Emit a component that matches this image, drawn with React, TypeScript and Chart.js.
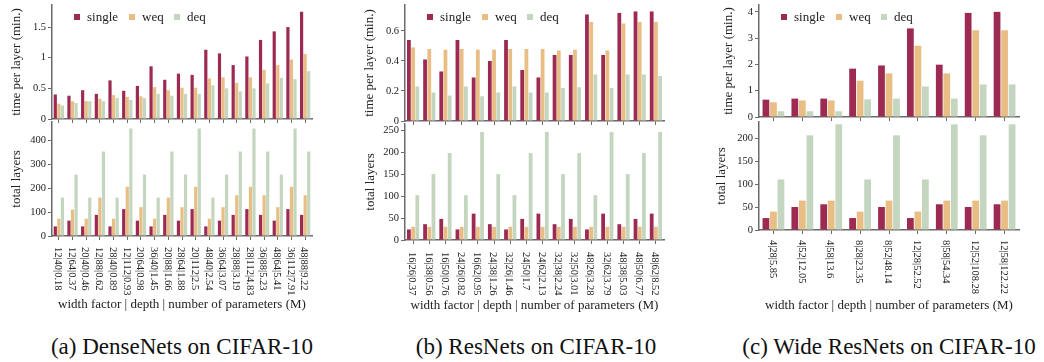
import React, { useEffect, useRef } from "react";
import { Chart, registerables } from "chart.js";

Chart.register(...registerables);

const FONT = "'Liberation Serif', 'Times New Roman', serif";
const SERIES = ["single", "weq", "deq"];
const COLORS = ["#9C2A52", "#E8BE84", "#C4D6C0"];
const AXIS = "#6b6b6b";
const TEXT = "#222";
const X_TITLE = "width factor | depth | number of parameters (M)";

// (a) DenseNets
const denseLabels = ["12|40|0.18", "12|64|0.37", "20|40|0.46", "12|88|0.62", "28|40|0.89", "12|112|0.93", "20|64|0.98", "36|40|1.45", "20|88|1.66", "28|64|1.88", "20|112|2.5", "48|40|2.54", "36|64|3.07", "28|88|3.19", "28|112|4.83", "36|88|5.23", "48|64|5.41", "36|112|7.91", "48|88|9.22"];
const denseTimeSingle = [0.40, 0.38, 0.47, 0.41, 0.63, 0.46, 0.54, 0.86, 0.64, 0.74, 0.72, 1.13, 1.07, 0.88, 1.02, 1.29, 1.43, 1.50, 1.75];
const denseTimeWeq = [0.25, 0.29, 0.29, 0.33, 0.39, 0.36, 0.37, 0.52, 0.47, 0.51, 0.51, 0.66, 0.68, 0.59, 0.68, 0.80, 0.88, 0.97, 1.06];
const denseTimeDeq = [0.22, 0.26, 0.29, 0.29, 0.34, 0.31, 0.34, 0.41, 0.38, 0.41, 0.41, 0.55, 0.50, 0.45, 0.50, 0.58, 0.67, 0.65, 0.78];
const denseLayersSingle = [40, 64, 40, 88, 40, 112, 64, 40, 88, 64, 112, 40, 64, 88, 112, 88, 64, 112, 88];
const denseLayersWeq = [72, 110, 72, 160, 72, 205, 120, 72, 160, 120, 205, 72, 120, 170, 205, 170, 120, 205, 170];
const denseLayersDeq = [160, 256, 160, 352, 160, 448, 256, 160, 352, 256, 448, 160, 256, 352, 448, 352, 256, 448, 352];

// (b) ResNets
const resLabels = ["16|26|0.37", "16|38|0.56", "16|50|0.76", "24|26|0.82", "16|62|0.95", "24|38|1.26", "32|26|1.46", "24|50|1.7", "24|62|2.13", "32|38|2.24", "32|50|3.01", "48|26|3.28", "32|62|3.79", "48|38|5.03", "48|50|6.77", "48|62|8.52"];
const resTimeSingle = [0.54, 0.41, 0.33, 0.54, 0.29, 0.40, 0.54, 0.34, 0.29, 0.44, 0.44, 0.71, 0.44, 0.72, 0.73, 0.73];
const resTimeWeq = [0.49, 0.48, 0.475, 0.48, 0.475, 0.475, 0.48, 0.48, 0.48, 0.47, 0.475, 0.66, 0.47, 0.65, 0.66, 0.66];
const resTimeDeq = [0.23, 0.19, 0.17, 0.23, 0.165, 0.19, 0.23, 0.19, 0.19, 0.22, 0.225, 0.31, 0.22, 0.31, 0.31, 0.30];
const resLayersSingle = [24, 36, 48, 24, 60, 36, 24, 48, 60, 36, 48, 24, 60, 36, 48, 60];
const resLayersWeq = [30, 30, 30, 30, 30, 30, 30, 30, 30, 30, 30, 30, 30, 30, 30, 30];
const resLayersDeq = [102, 150, 198, 102, 246, 150, 102, 198, 246, 150, 198, 102, 246, 150, 198, 246];

// (c) Wide ResNets
const wideLabels = ["4|28|5.85", "4|52|12.05", "4|58|13.6", "8|28|23.35", "8|52|48.14", "12|28|52.52", "8|58|54.34", "12|52|108.28", "12|58|122.22"];
const wideTimeSingle = [0.66, 0.70, 0.70, 1.84, 1.96, 3.37, 1.99, 3.96, 4.0];
const wideTimeWeq = [0.56, 0.63, 0.63, 1.38, 1.66, 2.71, 1.66, 3.30, 3.30];
const wideTimeDeq = [0.22, 0.22, 0.22, 0.67, 0.70, 1.16, 0.70, 1.24, 1.24];
const wideLayersSingle = [26, 50, 56, 26, 50, 26, 56, 50, 56];
const wideLayersWeq = [40, 64, 64, 40, 64, 40, 64, 64, 64];
const wideLayersDeq = [110, 206, 230, 110, 206, 110, 230, 206, 230];

const legendPlugin = {
  id: "boxLegend",
  afterDraw(chart: any, _args: any, opts: any) {
    if (!opts || !opts.show) return;
    const { ctx, chartArea } = chart;
    const offs = [22, 77, 122];
    ctx.save();
    ctx.font = `13px ${FONT}`;
    ctx.textBaseline = "middle";
    ctx.textAlign = "left";
    chart.data.datasets.forEach((ds: any, i: number) => {
      const x = chartArea.left + offs[i];
      const y = chartArea.top + 12;
      ctx.fillStyle = ds.backgroundColor;
      ctx.fillRect(x, y - 3, 6, 6);
      ctx.fillStyle = TEXT;
      ctx.fillText(ds.label, x + 13, y + 0.5);
    });
    ctx.restore();
  },
};

const xLabelPlugin = {
  id: "xLabels",
  afterDraw(chart: any, _args: any, opts: any) {
    if (!opts || !opts.show) return;
    const { ctx, chartArea } = chart;
    const xs = chart.scales.x;
    ctx.save();
    ctx.font = `10.5px ${FONT}`;
    ctx.fillStyle = TEXT;
    ctx.textAlign = "left";
    ctx.textBaseline = "middle";
    chart.data.labels.forEach((lab: string, i: number) => {
      const px = xs.getPixelForTick(i);
      ctx.save();
      ctx.translate(px - 1, chartArea.bottom + opts.gap);
      ctx.rotate(Math.PI / 2);
      ctx.fillText(lab, 0, 0);
      ctx.restore();
    });
    ctx.font = `13px ${FONT}`;
    ctx.textAlign = "center";
    ctx.fillText(X_TITLE, (chartArea.left + chartArea.right) / 2, opts.titleY);
    ctx.restore();
  },
};

type SubProps = {
  labels: string[];
  series: number[][];
  cx: number;
  cy: number;
  L: number;
  R: number;
  T: number;
  B: number;
  bottomEdge: number;
  max: number;
  step: number;
  yTitle: string;
  legend?: boolean;
  xLabels?: boolean;
  gap?: number;
  titleY?: number;
};

function SubChart(p: SubProps) {
  const ref = useRef<HTMLCanvasElement | null>(null);
  const cw = p.R + 10 - p.cx;
  const ch = p.bottomEdge - p.cy;
  useEffect(() => {
    if (!ref.current) return;
    const datasets = p.series.map((d, i) => ({
      label: SERIES[i],
      data: d,
      backgroundColor: COLORS[i],
      borderWidth: 0,
      categoryPercentage: 0.78,
      barPercentage: 0.9,
    }));
    const chart = new Chart(ref.current, {
      type: "bar",
      data: { labels: p.labels, datasets },
      options: {
        animation: false,
        responsive: false,
        maintainAspectRatio: false,
        layout: { padding: { left: 0, right: cw - (p.R - p.cx), top: p.T - p.cy, bottom: 0 } },
        plugins: {
          legend: { display: false },
          tooltip: { enabled: false },
          boxLegend: { show: !!p.legend },
          xLabels: { show: !!p.xLabels, gap: p.gap || 11, titleY: (p.titleY || 0) - p.cy },
        } as any,
        scales: {
          x: {
            grid: { offset: false, drawOnChartArea: false, tickLength: 4, color: AXIS, tickWidth: 1 },
            border: { color: AXIS, width: 1.5 },
            ticks: { display: false },
            afterFit: (s: any) => {
              s.height = p.cy + ch - p.B;
            },
          },
          y: {
            min: 0,
            max: p.max,
            grid: { drawOnChartArea: false, tickLength: 4, color: AXIS },
            border: { color: AXIS, width: 1.5 },
            ticks: {
              stepSize: p.step,
              includeBounds: false,
              padding: 2,
              color: TEXT,
              font: { family: FONT, size: 10.5 },
              callback: (v: any) => String(+Number(v).toFixed(2)),
            },
            title: {
              display: true,
              text: p.yTitle,
              color: TEXT,
              font: { family: FONT, size: 13 },
              padding: { top: 2, bottom: 0 },
            },
            afterFit: (s: any) => {
              s.width = p.L - p.cx;
            },
          },
        } as any,
      },
      plugins: [legendPlugin, xLabelPlugin],
    } as any);
    return () => chart.destroy();
  }, []);
  return (
    <canvas
      ref={ref}
      width={cw}
      height={ch}
      style={{ position: "absolute", left: p.cx, top: p.cy, width: cw, height: ch }}
    />
  );
}

const captionStyle = (center: number): React.CSSProperties => ({
  position: "absolute",
  left: center - 250,
  width: 500,
  top: 333,
  textAlign: "center",
  fontFamily: FONT,
  fontSize: 23,
  lineHeight: "28px",
  color: "#111",
  whiteSpace: "nowrap",
});

export default function App() {
  return (
    <div style={{ position: "absolute", left: 0, top: 0, width: 1044, height: 362, overflow: "hidden", background: "#fff" }}>
      {/* (a) */}
      <SubChart labels={denseLabels} series={[denseTimeSingle, denseTimeWeq, denseTimeDeq]} cx={7} cy={-5} L={52} R={312} T={5} B={119} bottomEdge={131} max={1.86} step={0.5} yTitle="time per layer (min.)" legend />
      <SubChart labels={denseLabels} series={[denseLayersSingle, denseLayersWeq, denseLayersDeq]} cx={7} cy={112} L={52} R={312} T={122} B={236} bottomEdge={322} max={475} step={100} yTitle="total layers" xLabels gap={11} titleY={305} />
      {/* (b) */}
      <SubChart labels={resLabels} series={[resTimeSingle, resTimeWeq, resTimeDeq]} cx={360} cy={-5} L={405} R={664} T={5} B={121} bottomEdge={133} max={0.773} step={0.2} yTitle="time per layer (min.)" legend />
      <SubChart labels={resLabels} series={[resLayersSingle, resLayersWeq, resLayersDeq]} cx={361} cy={114} L={405} R={664} T={124} B={240} bottomEdge={322} max={264} step={50} yTitle="total layers" xLabels gap={12} titleY={306} />
      {/* (c) */}
      <SubChart labels={wideLabels} series={[wideTimeSingle, wideTimeWeq, wideTimeDeq]} cx={719} cy={-5} L={759} R={1019} T={5} B={117} bottomEdge={129} max={4.26} step={1} yTitle="time per layer (min.)" legend />
      <SubChart labels={wideLabels} series={[wideLayersSingle, wideLayersWeq, wideLayersDeq]} cx={712} cy={112} L={759} R={1019} T={122} B={230} bottomEdge={322} max={235} step={50} yTitle="total layers" xLabels gap={10} titleY={306} />
      <div style={captionStyle(182)}>(a) DenseNets on CIFAR-10</div>
      <div style={captionStyle(536)}>(b) ResNets on CIFAR-10</div>
      <div style={captionStyle(889)}>(c) Wide ResNets on CIFAR-10</div>
    </div>
  );
}
